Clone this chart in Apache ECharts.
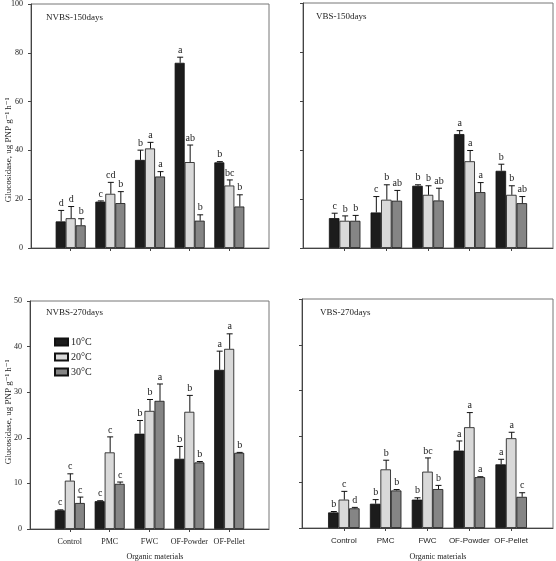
<!DOCTYPE html>
<html><head><meta charset="utf-8">
<script src="https://cdn.jsdelivr.net/npm/echarts@6/dist/echarts.min.js"></script>
<style>html,body{margin:0;padding:0;background:#fff}#c{width:556px;height:561px}</style>
</head><body><div id="c"></div>
<script>
// ---------- DATA ----------
const categories = ['Control', 'PMC', 'FWC', 'OF-Powder', 'OF-Pellet'];
const temps = ['10°C', '20°C', '30°C'];
const panelTitles = ['NVBS-150days', 'VBS-150days', 'NVBS-270days', 'VBS-270days'];
const yTicksTop = [0, 20, 40, 60, 80, 100];
const yTicksBottom = [0, 10, 20, 30, 40, 50];

// NVBS-150days
const nvbs150_10 = [10.9, 19.0, 36.1, 75.9, 35.1];
const nvbs150_20 = [12.2, 22.2, 40.8, 35.2, 25.6];
const nvbs150_30 = [9.3, 18.4, 29.3, 11.2, 17.0];
const nvbs150_err10 = [4.5, 0.3, 4.0, 2.3, 0.3];
const nvbs150_err20 = [4.8, 4.7, 2.5, 7.0, 2.3];
const nvbs150_err30 = [2.7, 4.7, 2.0, 2.4, 4.8];
const nvbs150_let10 = ['d', 'c', 'b', 'a', 'b'];
const nvbs150_let20 = ['d', 'cd', 'a', 'ab', 'bc'];
const nvbs150_let30 = ['b', 'b', 'a', 'b', 'b'];

// VBS-150days
const vbs150_10 = [12.2, 14.5, 25.4, 46.5, 31.5];
const vbs150_20 = [11.1, 19.7, 21.7, 35.4, 21.7];
const vbs150_30 = [11.1, 19.3, 19.4, 22.8, 18.3];
const vbs150_err10 = [2.0, 6.5, 0.4, 1.4, 2.7];
const vbs150_err20 = [2.0, 6.1, 3.7, 4.4, 3.7];
const vbs150_err30 = [2.2, 4.2, 5.0, 3.9, 2.7];
const vbs150_let10 = ['c', 'c', 'b', 'a', 'b'];
const vbs150_let20 = ['b', 'b', 'b', 'a', 'b'];
const vbs150_let30 = ['b', 'ab', 'ab', 'a', 'ab'];

// NVBS-270days
const nvbs270_10 = [4.1, 6.1, 20.9, 15.4, 34.9];
const nvbs270_20 = [10.6, 16.8, 25.9, 25.7, 39.5];
const nvbs270_30 = [5.7, 9.9, 28.1, 14.6, 16.7];
const nvbs270_err10 = [0.1, 0.1, 2.9, 2.7, 4.1];
const nvbs270_err20 = [1.5, 3.4, 2.5, 3.6, 3.3];
const nvbs270_err30 = [1.3, 0.4, 3.7, 0.2, 0.1];
const nvbs270_let10 = ['c', 'c', 'b', 'b', 'a'];
const nvbs270_let20 = ['c', 'c', 'b', 'b', 'a'];
const nvbs270_let30 = ['c', 'c', 'a', 'b', 'b'];

// VBS-270days
const vbs270_10 = [3.4, 5.3, 6.2, 16.9, 13.9];
const vbs270_20 = [6.2, 12.8, 12.3, 22.0, 19.6];
const vbs270_30 = [4.3, 8.2, 8.5, 11.1, 6.8];
const vbs270_err10 = [0.2, 0.9, 0.4, 2.1, 1.1];
const vbs270_err20 = [1.8, 2.0, 3.0, 3.2, 1.3];
const vbs270_err30 = [0.2, 0.2, 0.8, 0.1, 0.9];
const vbs270_let10 = ['b', 'b', 'b', 'a', 'a'];
const vbs270_let20 = ['c', 'b', 'bc', 'a', 'a'];
const vbs270_let30 = ['d', 'b', 'b', 'a', 'c'];

// ---------- LAYOUT / STYLE ----------
const colors = ['#1c1c1c', '#d9d9d9', '#858585'];
const SERIF = '"Liberation Serif", "DejaVu Serif", serif';
const SANS = '"Liberation Sans", Arial, sans-serif';

const panels = [
  { grid: { left: 31, top: 3, width: 238, height: 245 }, max: 100, interval: 20, yLabels: true, xLabels: false, bw: 10,
    vals: [nvbs150_10, nvbs150_20, nvbs150_30], errs: [nvbs150_err10, nvbs150_err20, nvbs150_err30], lets: [nvbs150_let10, nvbs150_let20, nvbs150_let30] },
  { grid: { left: 303, top: 3, width: 250, height: 245 }, max: 100, interval: 20, yLabels: false, xLabels: false, bw: 10.5,
    vals: [vbs150_10, vbs150_20, vbs150_30], errs: [vbs150_err10, vbs150_err20, vbs150_err30], lets: [vbs150_let10, vbs150_let20, vbs150_let30] },
  { grid: { left: 30, top: 301, width: 239, height: 228 }, max: 50, interval: 10, yLabels: true, xLabels: true, xFont: SERIF, xSize: 8, bw: 10,
    vals: [nvbs270_10, nvbs270_20, nvbs270_30], errs: [nvbs270_err10, nvbs270_err20, nvbs270_err30], lets: [nvbs270_let10, nvbs270_let20, nvbs270_let30] },
  { grid: { left: 302, top: 299, width: 252, height: 229 }, max: 50, interval: 10, yLabels: false, xLabels: true, xFont: SANS, xSize: 8, bw: 10.5,
    vals: [vbs270_10, vbs270_20, vbs270_30], errs: [vbs270_err10, vbs270_err20, vbs270_err30], lets: [vbs270_let10, vbs270_let20, vbs270_let30] }
];

const axisCats = [''].concat(categories).concat(['']);

const grids = [], xAxes = [], yAxes = [], series = [];
panels.forEach((p, pi) => {
  grids.push(Object.assign({ show: true, borderColor: '#777', borderWidth: 1, backgroundColor: 'transparent' }, p.grid));
  xAxes.push({
    type: 'category', gridIndex: pi, data: axisCats, boundaryGap: false,
    axisLine: { lineStyle: { color: '#444', width: 1 } },
    axisTick: { show: true, length: 3, interval: (i) => i > 0 && i < axisCats.length - 1, lineStyle: { color: '#444' } },
    axisLabel: { show: p.xLabels, interval: 0, fontFamily: p.xFont, fontSize: p.xSize, color: '#222', margin: 9 },
    splitLine: { show: false }
  });
  yAxes.push({
    type: 'value', gridIndex: pi, min: 0, max: p.max, interval: p.interval,
    axisLine: { show: true, lineStyle: { color: '#444', width: 1 } },
    axisTick: { show: true, length: 3, lineStyle: { color: '#444' } },
    axisLabel: { show: p.yLabels, fontFamily: SERIF, fontSize: 8, color: '#222', margin: 8 },
    splitLine: { show: false }
  });
  for (let s = 0; s < 3; s++) {
    series.push({
      type: 'bar', name: temps[s], xAxisIndex: pi, yAxisIndex: pi,
      data: p.vals[s].map((v, i) => [i + 1, v]),
      barWidth: p.bw, barGap: '0%',
      itemStyle: { color: colors[s], borderColor: '#111', borderWidth: 0.8 },
      emphasis: { disabled: true }, animation: false
    });
  }
  for (let s = 0; s < 3; s++) {
    const errs = p.errs[s], lets = p.lets[s], off = (s - 1) * p.bw;
    series.push({
      type: 'custom', xAxisIndex: pi, yAxisIndex: pi, silent: true, animation: false, z: 5,
      data: p.vals[s].map((v, i) => [i + 1, v, errs[i]]),
      renderItem: function (params, api) {
        const ci = api.value(0), v = api.value(1), e = api.value(2);
        const a = api.coord([ci, v]);
        const b = api.coord([ci, v + e]);
        const x = a[0] + off + 0.5;
        const cap = 3;
        return {
          type: 'group',
          children: [
            { type: 'line', shape: { x1: x, y1: a[1], x2: x, y2: b[1] }, style: { stroke: '#111', lineWidth: 1 } },
            { type: 'line', shape: { x1: x - cap, y1: b[1], x2: x + cap, y2: b[1] }, style: { stroke: '#111', lineWidth: 1 } },
            { type: 'text', x: x, y: b[1] - 2, style: { text: lets[params.dataIndex], fontFamily: SERIF, fontSize: 10, fill: '#222', align: 'center', verticalAlign: 'bottom' } }
          ]
        };
      }
    });
  }
});

const yName = 'Glucosidase, ug PNP g\u207B\u00B9 h\u207B\u00B9';
const graphics = [
  { type: 'text', x: 46, y: 18, style: { text: panelTitles[0], fontFamily: SERIF, fontSize: 9, fill: '#222', verticalAlign: 'middle' } },
  { type: 'text', x: 316, y: 17, style: { text: panelTitles[1], fontFamily: SERIF, fontSize: 9, fill: '#222', verticalAlign: 'middle' } },
  { type: 'text', x: 46, y: 313, style: { text: panelTitles[2], fontFamily: SERIF, fontSize: 9, fill: '#222', verticalAlign: 'middle' } },
  { type: 'text', x: 320, y: 313, style: { text: panelTitles[3], fontFamily: SERIF, fontSize: 9, fill: '#222', verticalAlign: 'middle' } },
  { type: 'text', x: 9, y: 150, rotation: Math.PI / 2, style: { text: yName, fontFamily: SERIF, fontSize: 9, fill: '#222', align: 'center', verticalAlign: 'middle' } },
  { type: 'text', x: 9, y: 412, rotation: Math.PI / 2, style: { text: yName, fontFamily: SERIF, fontSize: 9, fill: '#222', align: 'center', verticalAlign: 'middle' } },
  { type: 'text', x: 155, y: 557, style: { text: 'Organic materials', fontFamily: SERIF, fontSize: 8, fill: '#222', align: 'center', verticalAlign: 'middle' } },
  { type: 'text', x: 438, y: 557, style: { text: 'Organic materials', fontFamily: SERIF, fontSize: 8, fill: '#222', align: 'center', verticalAlign: 'middle' } }
];

const chart = echarts.init(document.getElementById('c'), null, { renderer: 'canvas' });
chart.setOption({
  animation: false,
  backgroundColor: '#fff',
  grid: grids,
  xAxis: xAxes,
  yAxis: yAxes,
  series: series,
  legend: {
    data: temps, orient: 'vertical', left: 49, top: 332,
    itemWidth: 13, itemHeight: 7, itemGap: 5, icon: 'rect',
    textStyle: { fontFamily: SERIF, fontSize: 10, color: '#222', padding: [0, 0, 0, -2] },
    selectedMode: false
  },
  graphic: graphics
});
</script></body></html>
